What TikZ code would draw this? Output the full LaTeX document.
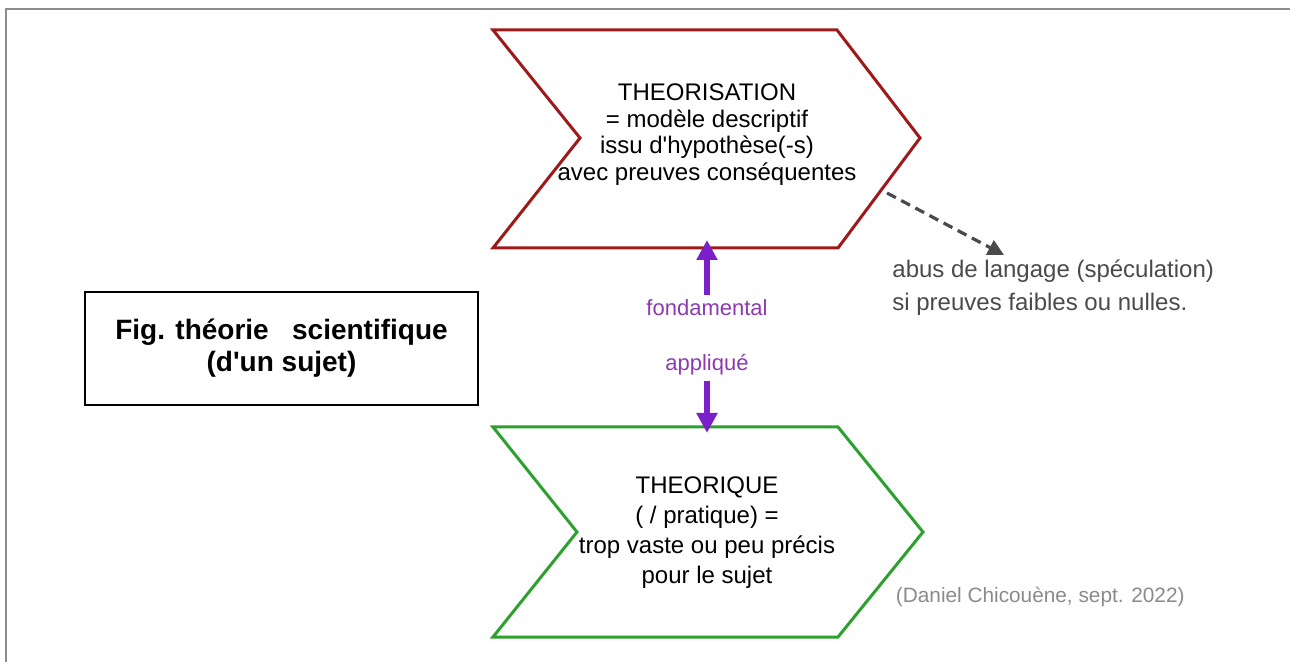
\documentclass[tikz,border=0pt]{standalone}
\usepackage{fontspec}
\setmainfont{Liberation Sans}[Ligatures=TeXOff]
\usetikzlibrary{arrows.meta}
\definecolor{redline}{HTML}{9E1A1A}
\definecolor{greenline}{HTML}{2DA02D}
\definecolor{purplearrow}{HTML}{7B1FC9}
\definecolor{purpletext}{HTML}{8C3AAE}
\definecolor{darkgrey}{HTML}{4A4A4A}
\definecolor{lightgrey}{HTML}{8A8A8A}
\definecolor{framegrey}{HTML}{8C8C8C}
\tikzset{
  chevred/.style={draw=redline,line width=1.5pt,line join=miter},
  chevgreen/.style={draw=greenline,line width=1.5pt,line join=miter},
  boxtext/.style={align=center,font=\fontsize{12}{13.3}\selectfont,text=black,inner sep=0pt},
  purplearr/.style={draw=purplearrow,line width=2.6pt,-{Triangle[length=10pt,width=10pt]}},
  purplelabel/.style={text=purpletext,font=\fontsize{11}{13}\selectfont,inner sep=0pt},
  dasharr/.style={draw=darkgrey,line width=1.6pt,dash pattern=on 5pt off 3pt,-{Triangle[length=8pt,width=8pt]}},
}
\begin{document}
\begin{tikzpicture}[x=0.5pt,y=-0.5pt]
\useasboundingbox (0,0) rectangle (1290,662);
% frame
\draw[framegrey,line width=1.2pt] (1290,9) -- (6,9) -- (6,662);
% red chevron
\draw[chevred] (493,30) -- (837,30) -- (920,138) -- (838,248) -- (493,248) -- (580,138) -- cycle;
\node[boxtext] (theor) at (707,134.5) {THEORISATION\\= modèle descriptif\\issu d'hypothèse(-s)\\avec preuves conséquentes};
\coordinate (redbot) at (707,240);
% green chevron
\draw[chevgreen] (493,427) -- (838,427) -- (923,532) -- (838,637) -- (493,637) -- (577,532) -- cycle;
\node[boxtext,font=\fontsize{12}{15}\selectfont] (theoq) at (707,532.5) {THEORIQUE\\( / pratique) =\\trop vaste ou peu précis\\pour le sujet};
\coordinate (greentop) at (707,433);
% purple labels and arrows
\node[purplelabel] (fond) at (707,308) {fondamental};
\node[purplelabel] (appl) at (707,365) {appliqué};
\coordinate (fondtop) at (707,295);
\coordinate (appbot) at (707,381);
\draw[purplearr] (fondtop) -- (redbot);
\draw[purplearr] (appbot) -- (greentop);
% dashed arrow
\coordinate (dstart) at (887,193);
\coordinate (dend) at (1004,255);
\draw[dasharr] (dstart) -- (dend);
\node[anchor=west,align=left,text=darkgrey,font=\fontsize{12}{16.5}\selectfont,inner sep=0pt] (abus) at (892,288) {abus de langage (spéculation)\\si preuves faibles ou nulles.};
% fig box
\node[draw=black,line width=1pt,minimum width=196.5pt,minimum height=56.5pt,inner sep=0pt,align=center,font=\bfseries\fontsize{14}{16}\selectfont] (fig) at (281.5,348.5) {Fig. théorie\ \ \ scientifique\\(d'un sujet)};
% credit
\node[anchor=east,text=lightgrey,font=\fontsize{10.4}{12}\selectfont,inner sep=0pt] (credit) at (1185,597) {(Daniel Chicouène, sept. 2022)};
\end{tikzpicture}
\end{document}
